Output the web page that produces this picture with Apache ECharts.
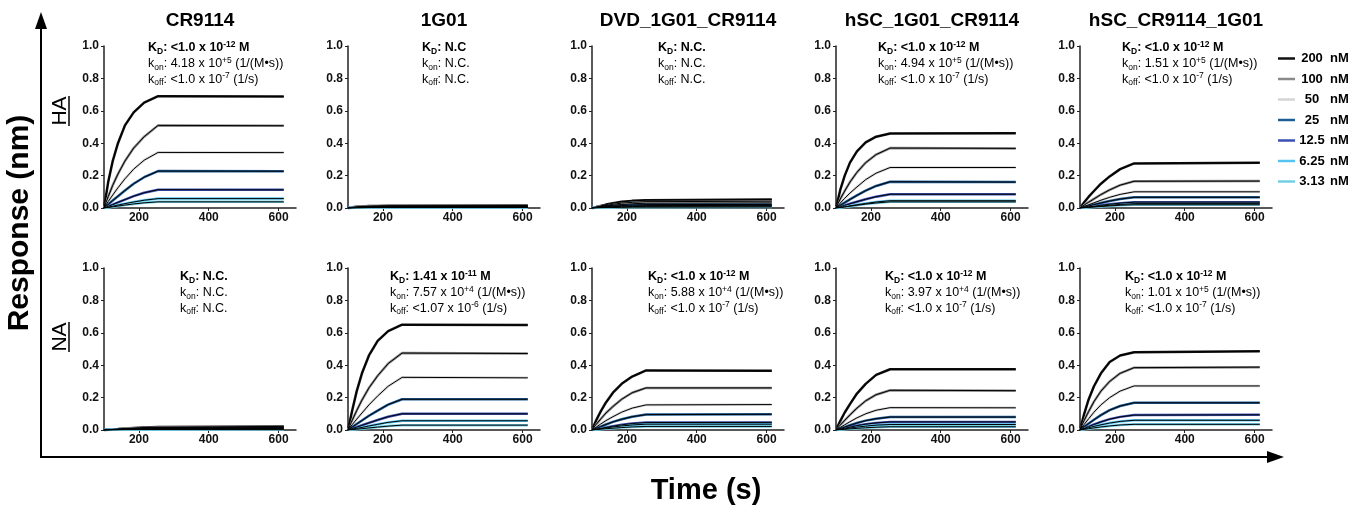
<!DOCTYPE html>
<html>
<head>
<meta charset="utf-8">
<title>BLI binding kinetics</title>
<script src="https://cdn.jsdelivr.net/npm/echarts@6/dist/echarts.min.js"></script>
<style>
  html, body { margin: 0; background: #fff; }
  #chart { width: 1360px; height: 507px; }
</style>
</head>
<body>
<div id="chart"></div>
<script>
// time points (s) of each sensorgram, association ends at 255 s
const times = [100, 112, 125, 140, 160, 185, 215, 255, 615];
const concLabels = ['200', '100', '50', '25', '12.5', '6.25', '3.13'];
const concColors = ['#111111', '#8a8a8a', '#d4d4d4', '#1d5c96', '#3a50b4', '#55c4f0', '#72cfe6'];
const antibodies = ['CR9114', '1G01', 'DVD_1G01_CR9114', 'hSC_1G01_CR9114', 'hSC_CR9114_1G01'];
const antigens = ['HA', 'NA'];

// response (nm), one row per concentration (200 nM first)
const haCR9114 = [
  [0, 0.16, 0.29, 0.40, 0.51, 0.59, 0.65, 0.69, 0.688],
  [0, 0.07, 0.14, 0.21, 0.29, 0.37, 0.44, 0.51, 0.508],
  [0, 0.04, 0.08, 0.125, 0.18, 0.24, 0.295, 0.343, 0.342],
  [0, 0.022, 0.046, 0.073, 0.108, 0.15, 0.19, 0.228, 0.227],
  [0, 0.01, 0.021, 0.035, 0.052, 0.073, 0.094, 0.113, 0.112],
  [0, 0.005, 0.011, 0.018, 0.027, 0.037, 0.048, 0.058, 0.058],
  [0, 0.003, 0.007, 0.012, 0.018, 0.025, 0.032, 0.038, 0.038]
];
const ha1G01 = [
  [0, 0.004, 0.007, 0.01, 0.012, 0.013, 0.014, 0.014, 0.015],
  [0, 0.003, 0.006, 0.008, 0.01, 0.011, 0.012, 0.012, 0.012],
  [0, 0.002, 0.004, 0.006, 0.007, 0.008, 0.009, 0.01, 0.01],
  [0, 0.002, 0.003, 0.004, 0.005, 0.006, 0.007, 0.008, 0.008],
  [0, 0.001, 0.002, 0.003, 0.004, 0.005, 0.005, 0.006, 0.006],
  [0, 0.001, 0.001, 0.002, 0.003, 0.003, 0.004, 0.004, 0.004],
  [0, 0, 0.001, 0.001, 0.002, 0.002, 0.003, 0.003, 0.003]
];
const haDVD = [
  [0, 0.006, 0.013, 0.021, 0.03, 0.038, 0.044, 0.048, 0.052],
  [0, 0.005, 0.01, 0.016, 0.023, 0.03, 0.035, 0.039, 0.042],
  [0, 0.004, 0.008, 0.012, 0.017, 0.022, 0.026, 0.03, 0.032],
  [0, 0.003, 0.005, 0.008, 0.012, 0.015, 0.018, 0.021, 0.022],
  [0, 0.002, 0.004, 0.006, 0.008, 0.011, 0.013, 0.015, 0.016],
  [0, 0.001, 0.003, 0.004, 0.006, 0.007, 0.009, 0.01, 0.011],
  [0, 0.001, 0.001, 0.002, 0.003, 0.004, 0.005, 0.005, 0.006]
];
const haHsc1G01 = [
  [0, 0.11, 0.2, 0.28, 0.35, 0.405, 0.44, 0.46, 0.462],
  [0, 0.055, 0.105, 0.16, 0.22, 0.28, 0.33, 0.37, 0.368],
  [0, 0.03, 0.06, 0.092, 0.13, 0.175, 0.215, 0.25, 0.25],
  [0, 0.016, 0.033, 0.053, 0.078, 0.107, 0.136, 0.162, 0.16],
  [0, 0.008, 0.016, 0.026, 0.039, 0.054, 0.07, 0.085, 0.085],
  [0, 0.004, 0.008, 0.013, 0.02, 0.028, 0.037, 0.045, 0.045],
  [0, 0.003, 0.006, 0.011, 0.017, 0.024, 0.031, 0.038, 0.038]
];
const haHscCR9114 = [
  [0, 0.035, 0.07, 0.105, 0.15, 0.195, 0.24, 0.275, 0.28],
  [0, 0.018, 0.036, 0.056, 0.083, 0.112, 0.141, 0.165, 0.166],
  [0, 0.01, 0.02, 0.032, 0.048, 0.066, 0.084, 0.1, 0.1],
  [0, 0.006, 0.013, 0.021, 0.031, 0.043, 0.055, 0.066, 0.066],
  [0, 0.003, 0.007, 0.011, 0.017, 0.023, 0.03, 0.036, 0.036],
  [0, 0.002, 0.005, 0.008, 0.012, 0.017, 0.022, 0.027, 0.027],
  [0, 0.002, 0.004, 0.006, 0.009, 0.013, 0.017, 0.02, 0.02]
];
const naCR9114 = [
  [0, 0.002, 0.004, 0.006, 0.009, 0.012, 0.015, 0.018, 0.022],
  [0, 0.002, 0.003, 0.005, 0.007, 0.01, 0.012, 0.015, 0.018],
  [0, 0.001, 0.003, 0.004, 0.006, 0.008, 0.01, 0.012, 0.014],
  [0, 0.001, 0.002, 0.003, 0.005, 0.006, 0.008, 0.009, 0.011],
  [0, 0.001, 0.002, 0.003, 0.004, 0.005, 0.006, 0.007, 0.008],
  [0, 0.001, 0.001, 0.002, 0.003, 0.004, 0.004, 0.005, 0.006],
  [0, 0, 0.001, 0.001, 0.002, 0.002, 0.003, 0.003, 0.004]
];
const na1G01 = [
  [0, 0.12, 0.24, 0.35, 0.46, 0.55, 0.61, 0.65, 0.648],
  [0, 0.06, 0.12, 0.185, 0.26, 0.335, 0.41, 0.475, 0.472],
  [0, 0.033, 0.067, 0.105, 0.155, 0.21, 0.27, 0.325, 0.322],
  [0, 0.018, 0.037, 0.059, 0.088, 0.12, 0.157, 0.19, 0.19],
  [0, 0.009, 0.018, 0.029, 0.044, 0.062, 0.082, 0.1, 0.1],
  [0, 0.005, 0.01, 0.016, 0.025, 0.035, 0.047, 0.057, 0.057],
  [0, 0.003, 0.005, 0.008, 0.013, 0.018, 0.024, 0.03, 0.03]
];
const naDVD = [
  [0, 0.06, 0.115, 0.17, 0.23, 0.285, 0.33, 0.368, 0.365],
  [0, 0.035, 0.068, 0.105, 0.145, 0.19, 0.23, 0.26, 0.26],
  [0, 0.018, 0.037, 0.058, 0.082, 0.11, 0.135, 0.155, 0.157],
  [0, 0.01, 0.021, 0.034, 0.05, 0.066, 0.082, 0.095, 0.097],
  [0, 0.005, 0.01, 0.016, 0.024, 0.032, 0.04, 0.046, 0.047],
  [0, 0.004, 0.008, 0.013, 0.019, 0.025, 0.031, 0.036, 0.036],
  [0, 0.002, 0.005, 0.008, 0.011, 0.015, 0.019, 0.022, 0.022]
];
const naHsc1G01 = [
  [0, 0.055, 0.108, 0.16, 0.225, 0.285, 0.34, 0.375, 0.375],
  [0, 0.03, 0.06, 0.093, 0.135, 0.18, 0.218, 0.245, 0.243],
  [0, 0.016, 0.032, 0.051, 0.075, 0.1, 0.122, 0.138, 0.137],
  [0, 0.009, 0.018, 0.029, 0.043, 0.058, 0.07, 0.08, 0.08],
  [0, 0.005, 0.011, 0.018, 0.027, 0.036, 0.044, 0.05, 0.05],
  [0, 0.004, 0.008, 0.012, 0.018, 0.024, 0.03, 0.034, 0.034],
  [0, 0.002, 0.004, 0.007, 0.01, 0.014, 0.017, 0.02, 0.02]
];
const naHscCR9114 = [
  [0, 0.1, 0.19, 0.27, 0.35, 0.42, 0.46, 0.48, 0.486],
  [0, 0.06, 0.115, 0.175, 0.24, 0.3, 0.35, 0.385, 0.388],
  [0, 0.035, 0.07, 0.11, 0.155, 0.2, 0.24, 0.272, 0.272],
  [0, 0.02, 0.04, 0.063, 0.092, 0.123, 0.148, 0.168, 0.168],
  [0, 0.01, 0.021, 0.034, 0.05, 0.067, 0.081, 0.092, 0.094],
  [0, 0.007, 0.014, 0.022, 0.032, 0.043, 0.053, 0.06, 0.06],
  [0, 0.004, 0.008, 0.013, 0.019, 0.025, 0.031, 0.035, 0.035]
];

// fitted constants, [mantissa, exponent, unit]; empty exponent = not calculated
const kdValues = [
  ['<1.0 x 10', '-12', ' M'], ['N.C', '', ''], ['N.C.', '', ''], ['<1.0 x 10', '-12', ' M'], ['<1.0 x 10', '-12', ' M'],
  ['N.C.', '', ''], ['1.41 x 10', '-11', ' M'], ['<1.0 x 10', '-12', ' M'], ['<1.0 x 10', '-12', ' M'], ['<1.0 x 10', '-12', ' M']
];
const konValues = [
  ['4.18 x 10', '+5', ' (1/(M•s))'], ['N.C.', '', ''], ['N.C.', '', ''], ['4.94 x 10', '+5', ' (1/(M•s))'], ['1.51 x 10', '+5', ' (1/(M•s))'],
  ['N.C.', '', ''], ['7.57 x 10', '+4', ' (1/(M•s))'], ['5.88 x 10', '+4', ' (1/(M•s))'], ['3.97 x 10', '+4', ' (1/(M•s))'], ['1.01 x 10', '+5', ' (1/(M•s))']
];
const koffValues = [
  ['<1.0 x 10', '-7', ' (1/s)'], ['N.C.', '', ''], ['N.C.', '', ''], ['<1.0 x 10', '-7', ' (1/s)'], ['<1.0 x 10', '-7', ' (1/s)'],
  ['N.C.', '', ''], ['<1.07 x 10', '-6', ' (1/s)'], ['<1.0 x 10', '-7', ' (1/s)'], ['<1.0 x 10', '-7', ' (1/s)'], ['<1.0 x 10', '-7', ' (1/s)']
];

const panels = [haCR9114, ha1G01, haDVD, haHsc1G01, haHscCR9114, naCR9114, na1G01, naDVD, naHsc1G01, naHscCR9114];

// ---- layout ----
const FONT = 'Liberation Sans, Arial, sans-serif';
const colLeft = [104, 348, 592, 836, 1080];
const rowTop = [46, 268];
const gridW = 192, gridH = 162;
const textOffset = [44, 74, 66, 42, 42, 76, 42, 56, 49, 45];
const textTop = [48, 277];

const grids = [], xAxes = [], yAxes = [], series = [], graphics = [];

panels.forEach((panel, p) => {
  const row = Math.floor(p / 5), col = p % 5;
  grids.push({ left: colLeft[col], top: rowTop[row], width: gridW, height: gridH });
  xAxes.push({
    type: 'value', gridIndex: p, min: 100, max: 650,
    splitLine: { show: false },
    axisLine: { lineStyle: { color: '#222', width: 1.5 } },
    axisTick: { customValues: [200, 400, 600], length: 3, lineStyle: { color: '#222' } },
    axisLabel: { customValues: [200, 400, 600], margin: 4, color: '#111', fontWeight: 'bold', fontSize: 12, fontFamily: FONT }
  });
  yAxes.push({
    type: 'value', gridIndex: p, min: 0, max: 1, interval: 0.2,
    splitLine: { show: false },
    axisLine: { show: true, onZero: false, lineStyle: { color: '#222', width: 1.5 } },
    axisTick: { show: true, length: 3, lineStyle: { color: '#222' } },
    axisLabel: { margin: 5, color: '#111', fontWeight: 'bold', fontSize: 12, fontFamily: FONT,
      formatter: v => v.toFixed(1) }
  });
  panel.forEach((vals, c) => {
    const pts = times.map((t, i) => [t, vals[i]]);
    series.push({
      name: concLabels[c], type: 'line', xAxisIndex: p, yAxisIndex: p, data: pts,
      showSymbol: false, silent: true, z: 2,
      itemStyle: { color: concColors[c] },
      lineStyle: { color: concColors[c], width: 2.5 }
    });
    series.push({
      name: 'fit', type: 'line', xAxisIndex: p, yAxisIndex: p, data: pts,
      showSymbol: false, silent: true, z: 3,
      lineStyle: { color: '#000', width: 1 }
    });
  });

  // kinetic constants text
  const x = colLeft[col] + textOffset[p];
  const y0 = textTop[row];
  const line = (v, name, sub, bold) => {
    const b = bold ? 'b' : 'n';
    let s = `{${b}|${name}}{${b}s|${sub}}{${b}|: ${v[0]}}`;
    if (v[1]) s += `{${b}p|${v[1]}}{${b}|${v[2]}}`;
    return s;
  };
  const rich = {
    b: { fontSize: 12.5, fontWeight: 'bold', color: '#000', fontFamily: FONT },
    bs: { fontSize: 8.5, fontWeight: 'bold', color: '#000', fontFamily: FONT, padding: [7, 0, 0, 0] },
    bp: { fontSize: 8.5, fontWeight: 'bold', color: '#000', fontFamily: FONT, padding: [0, 0, 7, 0] },
    n: { fontSize: 12.5, color: '#333', fontFamily: FONT },
    ns: { fontSize: 8.5, color: '#333', fontFamily: FONT, padding: [7, 0, 0, 0] },
    np: { fontSize: 8.5, color: '#333', fontFamily: FONT, padding: [0, 0, 7, 0] }
  };
  [[kdValues[p], 'K', 'D', true], [konValues[p], 'k', 'on', false], [koffValues[p], 'k', 'off', false]]
    .forEach((d, i) => {
      graphics.push({
        type: 'text', x: x, y: y0 + i * 15.7, silent: true,
        style: { text: line(d[0], d[1], d[2], d[3]), rich: rich, align: 'left', verticalAlign: 'middle' }
      });
    });
});

// column titles
antibodies.forEach((name, i) => {
  graphics.push({
    type: 'text', x: colLeft[i] + gridW / 2, y: 21, silent: true,
    style: { text: name, font: 'bold 19px ' + FONT, fill: '#000', align: 'center', verticalAlign: 'middle' }
  });
});

// row labels, underlined
const rowLabelY = [111, 337];
antigens.forEach((name, i) => {
  graphics.push({
    type: 'text', x: 60, y: rowLabelY[i], rotation: Math.PI / 2, silent: true,
    style: { text: name, font: '21px ' + FONT, fill: '#000', align: 'center', verticalAlign: 'middle' }
  });
  graphics.push({
    type: 'line', silent: true,
    shape: { x1: 69, y1: rowLabelY[i] - 15, x2: 69, y2: rowLabelY[i] + 15 },
    style: { stroke: '#000', lineWidth: 1.5 }
  });
});

// big arrows and axis titles
graphics.push(
  { type: 'line', silent: true, shape: { x1: 41, y1: 457, x2: 41, y2: 24 }, style: { stroke: '#000', lineWidth: 2 } },
  { type: 'polygon', silent: true, shape: { points: [[41, 12], [35, 29], [47, 29]] }, style: { fill: '#000' } },
  { type: 'line', silent: true, shape: { x1: 40, y1: 457, x2: 1272, y2: 457 }, style: { stroke: '#000', lineWidth: 2 } },
  { type: 'polygon', silent: true, shape: { points: [[1284, 457], [1267, 451], [1267, 463]] }, style: { fill: '#000' } },
  { type: 'text', x: 20, y: 223, rotation: Math.PI / 2, silent: true,
    style: { text: 'Response (nm)', font: 'bold 30px ' + FONT, fill: '#000', align: 'center', verticalAlign: 'middle' } },
  { type: 'text', x: 706, y: 491, silent: true,
    style: { text: 'Time (s)', font: 'bold 29px ' + FONT, fill: '#000', align: 'center', verticalAlign: 'middle' } }
);

const chart = echarts.init(document.getElementById('chart'), null, { renderer: 'canvas' });
chart.setOption({
  backgroundColor: '#fff',
  animation: false,
  grid: grids,
  xAxis: xAxes,
  yAxis: yAxes,
  legend: {
    data: concLabels,
    orient: 'vertical', left: 1273, top: 47,
    icon: 'rect', itemWidth: 17, itemHeight: 2.5, itemGap: 7.5,
    selectedMode: false,
    formatter: name => `{n|${name}}{u|nM}`,
    textStyle: {
      rich: {
        n: { width: 24, align: 'right', fontSize: 13, fontWeight: 'bold', color: '#000', fontFamily: FONT, lineHeight: 15 },
        u: { fontSize: 13, fontWeight: 'bold', color: '#000', fontFamily: FONT, padding: [0, 0, 0, 6], lineHeight: 15 }
      }
    }
  },
  series: series,
  graphic: graphics
});
</script>
</body>
</html>
